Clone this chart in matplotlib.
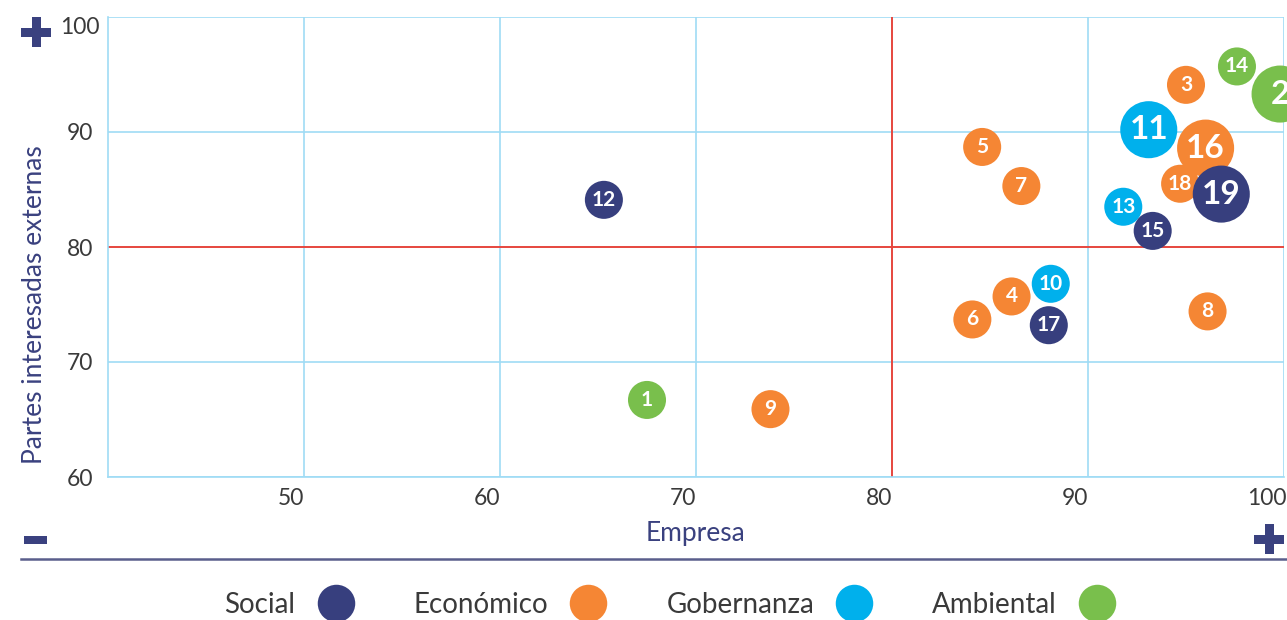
import matplotlib
matplotlib.use('Agg')
import matplotlib.pyplot as plt
from matplotlib.lines import Line2D
from matplotlib.patches import Rectangle
import matplotlib.transforms as mtransforms

plt.rcParams['font.family'] = ['Lato', 'DejaVu Sans']

# Datos: temas materiales (empresa vs partes interesadas externas)
ids = ['1', '2', '3', '4', '5', '6', '7', '8', '9', '10',
       '11', '12', '13', '14', '15', '16', '17', '18', '19']
empresa = [67.5, 99.8, 95.0, 86.1, 84.6, 84.1, 86.6, 96.1, 73.8, 88.1,
           93.1, 65.3, 91.8, 97.6, 93.3, 96.0, 88.0, 94.7, 96.8]
externas = [66.7, 93.3, 94.1, 75.7, 88.7, 73.7, 85.3, 74.4, 65.9, 76.8,
            90.2, 84.1, 83.5, 95.7, 81.4, 88.6, 73.2, 85.5, 84.6]
dimension = ['Ambiental', 'Ambiental', 'Económico', 'Económico', 'Económico',
             'Económico', 'Económico', 'Económico', 'Económico', 'Gobernanza',
             'Gobernanza', 'Social', 'Gobernanza', 'Ambiental', 'Social',
             'Económico', 'Social', 'Económico', 'Social']
relevancia = [1, 2.25, 1, 1, 1, 1, 1, 1, 1, 1,
              2.25, 1, 1, 1, 1, 2.25, 1, 1, 2.25]

dimensiones = ['Social', 'Económico', 'Gobernanza', 'Ambiental']
colores = {'Social': '#373f7e', 'Económico': '#f58634',
           'Gobernanza': '#00b0ec', 'Ambiental': '#79bf4c'}

umbral_x = 80
umbral_y = 80

navy = '#3a417f'
grid_c = '#9fdcf5'
W, H = 1287, 620

fig = plt.figure(figsize=(W / 100, H / 100), dpi=100)
ax = fig.add_axes([108 / W, 1 - 477 / H, (1284 - 108) / W, (477 - 17) / H])

ax.set_xlim(40, 100)
ax.set_ylim(60, 100)
ax.set_xticks([50, 60, 70, 80, 90, 100])
ax.set_yticks([60, 70, 80, 90, 100])
ax.grid(True, color=grid_c, linewidth=1.2, zorder=0)
ax.set_axisbelow(True)
for s in ['top', 'right']:
    ax.spines[s].set_visible(False)
for s in ['left', 'bottom']:
    ax.spines[s].set_color(grid_c)
    ax.spines[s].set_linewidth(1.2)

ax.tick_params(length=0, labelsize=16.5, labelcolor='#3a3a3a')
ax.tick_params(axis='x', pad=8)
ax.tick_params(axis='y', pad=20)
for lab in ax.get_yticklabels():
    lab.set_horizontalalignment('center')
xlabs = ax.get_xticklabels()
for lab in xlabs:
    lab.set_transform(lab.get_transform() + mtransforms.ScaledTranslation(-13 / 100, 0, fig.dpi_scale_trans))
xlabs[-1].set_transform(xlabs[-1].get_transform() + mtransforms.ScaledTranslation(-4 / 100, 0, fig.dpi_scale_trans))
ylabs = ax.get_yticklabels()
ylabs[-1].set_transform(ylabs[-1].get_transform() + mtransforms.ScaledTranslation(0, -9 / 100, fig.dpi_scale_trans))

# lineas de umbral
ax.axvline(umbral_x, color='#e8473e', linewidth=1.4, zorder=1)
ax.axhline(umbral_y, color='#e8473e', linewidth=1.4, zorder=1)

base = 750
for i in range(len(ids)):
    ax.scatter(empresa[i], externas[i], s=base * relevancia[i],
               color=colores[dimension[i]], edgecolors='none', zorder=3 + i, clip_on=False)
    fs = 24 if relevancia[i] > 1.5 else 15
    ax.text(empresa[i], externas[i], ids[i], color='white', fontsize=fs, fontweight='bold',
            ha='center', va='center', zorder=3 + i)

fig.text(35 / W, 1 - 305 / H, 'Partes interesadas externas', rotation=90,
         ha='center', va='center', fontsize=19, color=navy)
fig.text(696 / W, 1 - 533 / H, 'Empresa', ha='center', va='center', fontsize=19, color=navy)


def rect_px(x0, y0, x1, y1, color=navy):
    fig.add_artist(Rectangle((x0 / W, 1 - y1 / H), (x1 - x0) / W, (y1 - y0) / H,
                             transform=fig.transFigure, color=color, lw=0))


# signos + / -
rect_px(21, 28, 51, 37)
rect_px(32, 17, 41, 47)
rect_px(24, 536, 47, 544)
rect_px(1254, 535, 1284, 544)
rect_px(1265, 524, 1274, 554)

fig.add_artist(Line2D([21 / W, 1], [1 - 559 / H, 1 - 559 / H], transform=fig.transFigure,
                      color='#5a5e8c', linewidth=1.8))

handles = [Line2D([], [], marker='o', linestyle='', markersize=27,
                  markerfacecolor=colores[d], markeredgecolor='none') for d in dimensiones]
fig.legend(handles, dimensiones, loc='center', bbox_to_anchor=(0.521, 1 - 605 / H),
           ncol=4, frameon=False, markerfirst=False, fontsize=20, handlelength=1.4,
           handletextpad=0.75, columnspacing=2.1, labelcolor='#3a3a3a')

fig.savefig('out.png', dpi=100)
